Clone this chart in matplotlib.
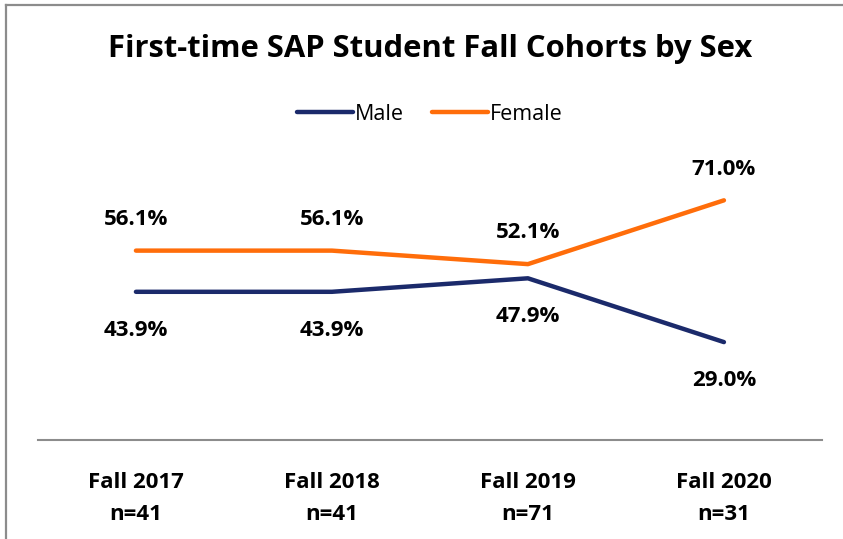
import matplotlib.pyplot as plt
from matplotlib.lines import Line2D

plt.rcParams['font.family'] = ['Open Sans', 'DejaVu Sans']

cohorts = ['Fall 2017', 'Fall 2018', 'Fall 2019', 'Fall 2020']
counts = [41, 41, 71, 31]
male = [43.9, 43.9, 47.9, 29.0]
female = [56.1, 56.1, 52.1, 71.0]

navy = '#1B2A6B'
orange = '#FF6D0A'

fig = plt.figure(figsize=(8.43, 5.39), dpi=100)
ax = fig.add_axes([0.045, 0.1837, 0.93, 0.501])

x = range(len(cohorts))
ax.plot(x, male, color=navy, lw=3.2, solid_capstyle='round', label='Male')
ax.plot(x, female, color=orange, lw=3.2, solid_capstyle='round', label='Female')

# data labels: female above, male below
for i in x:
    ax.annotate(f'{female[i]:.1f}%', (i, female[i]), xytext=(0, 18.5), textcoords='offset points',
                ha='center', va='baseline', fontsize=16, fontweight='bold')
    ax.annotate(f'{male[i]:.1f}%', (i, male[i]), xytext=(0, -31.8), textcoords='offset points',
                ha='center', va='baseline', fontsize=16, fontweight='bold')

ax.set_xlim(-0.5, 3.5)
ax.set_ylim(0, 80)
ax.set_yticks([])
ax.set_xticks(list(x))
ax.set_xticklabels([f'{c}\nn={n}' for c, n in zip(cohorts, counts)],
                   fontsize=16, fontweight='bold', linespacing=1.7)
ax.tick_params(axis='x', length=0, pad=23)
for s in ['top', 'right', 'left']:
    ax.spines[s].set_visible(False)
ax.spines['bottom'].set_color('#8C8C8C')
ax.spines['bottom'].set_linewidth(1.5)

fig.text(0.51, 0.91, 'First-time SAP Student Fall Cohorts by Sex', ha='center', va='center',
         fontsize=22.3, fontweight='bold')
fig.legend(loc='center', bbox_to_anchor=(0.51, 0.788), ncol=2, frameon=False, fontsize=15.5,
           handlelength=2.6, handletextpad=0.1, columnspacing=1.3)

# frame: top and left edges only
fig.add_artist(Line2D([6 / 843, 1], [1 - 5 / 539, 1 - 5 / 539], transform=fig.transFigure,
                      color='#8C8C8C', lw=1.6))
fig.add_artist(Line2D([6 / 843, 6 / 843], [0, 1 - 5 / 539], transform=fig.transFigure,
                      color='#8C8C8C', lw=1.6))

fig.savefig('out.png', dpi=100)
